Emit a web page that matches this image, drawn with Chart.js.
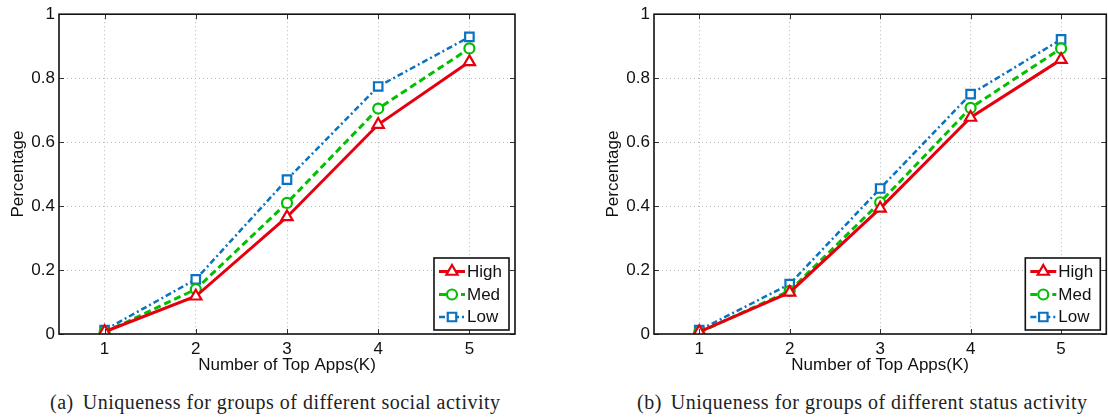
<!DOCTYPE html>
<html>
<head>
<meta charset="utf-8">
<script src="https://cdn.jsdelivr.net/npm/chart.js@4.4.0/dist/chart.umd.min.js"></script>
<style>
  html, body { margin: 0; padding: 0; background: #fff; overflow: hidden; width: 1108px; height: 417px; }
  .panel { position: absolute; top: 0; height: 380px; }
  #panelA { left: 0; width: 540px; }
  #panelB { left: 595px; width: 520px; }
  .caption { position: absolute; top: 391px; font-family: "Liberation Serif", serif; font-size: 20px; letter-spacing: 0.5px; color: #222; white-space: nowrap; line-height: 22px; }
  .caption .tag { margin-right: 9px; }
  #capA { left: 50px; }
  #capB { left: 637px; }
</style>
</head>
<body>
<div class="panel" id="panelA"><canvas id="socialChart"></canvas></div>
<div class="panel" id="panelB"><canvas id="statusChart"></canvas></div>
<div class="caption" id="capA"><span class="tag">(a)</span>Uniqueness for groups of different social activity</div>
<div class="caption" id="capB"><span class="tag">(b)</span>Uniqueness for groups of different status activity</div>
<script>
// Data
const topApps = ['1', '2', '3', '4', '5'];
const yTicks = [0, 0.2, 0.4, 0.6, 0.8, 1];
const groupNames = ['High', 'Med', 'Low'];

// (a) social activity groups
const socialHigh = [0.007, 0.118, 0.366, 0.655, 0.851];
const socialMed = [0.005, 0.140, 0.410, 0.705, 0.893];
const socialLow = [0.012, 0.171, 0.483, 0.774, 0.929];

// (b) status activity groups
const statusHigh = [0.007, 0.130, 0.393, 0.677, 0.858];
const statusMed = [0.005, 0.135, 0.412, 0.707, 0.893];
const statusLow = [0.012, 0.156, 0.455, 0.750, 0.921];

const FONT = '"Liberation Sans", Arial, sans-serif';

// line look for each group: High / Med / Low
const styles = [
  { color: '#e6000f', dash: [], width: 3, point: 'triangle', radius: 6.5 },
  { color: '#00c000', dash: [7, 4], width: 3, point: 'circle', radius: 5 },
  { color: '#0b72c2', dash: [6, 3, 2, 3], width: 2.5, point: 'rect', radius: 6 }
];

function makeDatasets(seriesList) {
  return seriesList.map((values, i) => ({
    label: groupNames[i],
    data: values,
    borderColor: styles[i].color,
    borderWidth: styles[i].width,
    borderDash: styles[i].dash,
    pointStyle: styles[i].point,
    pointRadius: styles[i].radius,
    pointHoverRadius: styles[i].radius,
    pointBorderWidth: 2.2,
    pointBorderColor: styles[i].color,
    pointBackgroundColor: '#fff',
    tension: 0,
    fill: false
  }));
}

// Box frame, inward ticks and the boxed legend in the lower right corner
const frameAndLegend = {
  id: 'frameAndLegend',
  afterDatasetsDraw(chart) {
    const { ctx, chartArea: a, scales: { x, y } } = chart;
    ctx.save();

    ctx.strokeStyle = '#333';
    ctx.lineWidth = 1;
    ctx.beginPath();
    x.ticks.forEach((t, i) => {
      const px = Math.round(x.getPixelForTick(i)) + 0.5;
      ctx.moveTo(px, a.bottom); ctx.lineTo(px, a.bottom - 5);
      ctx.moveTo(px, a.top); ctx.lineTo(px, a.top + 5);
    });
    y.ticks.forEach((t, i) => {
      const py = Math.round(y.getPixelForTick(i)) + 0.5;
      ctx.moveTo(a.left, py); ctx.lineTo(a.left + 5, py);
      ctx.moveTo(a.right, py); ctx.lineTo(a.right - 5, py);
    });
    ctx.stroke();

    ctx.strokeStyle = '#111';
    ctx.lineWidth = 1.6;
    ctx.strokeRect(a.left, a.top, a.right - a.left, a.bottom - a.top);

    // legend
    const boxW = 75, boxH = 72;
    const bx = a.right - 6 - boxW;
    const by = a.bottom - 4 - boxH;
    ctx.fillStyle = '#fff';
    ctx.fillRect(bx, by, boxW, boxH);
    ctx.strokeStyle = '#111';
    ctx.lineWidth = 1.6;
    ctx.strokeRect(bx, by, boxW, boxH);

    const rows = [13.5, 36.5, 59];
    chart.data.datasets.forEach((ds, i) => {
      const ry = by + rows[i];
      ctx.save();
      ctx.strokeStyle = ds.borderColor;
      ctx.lineWidth = ds.borderWidth;
      ctx.setLineDash(ds.borderDash);
      ctx.beginPath();
      ctx.moveTo(bx + 5, ry);
      ctx.lineTo(bx + 31, ry);
      ctx.stroke();
      ctx.setLineDash([]);
      ctx.fillStyle = '#fff';
      ctx.strokeStyle = ds.pointBorderColor;
      ctx.lineWidth = ds.pointBorderWidth;
      Chart.helpers.drawPoint(ctx, { pointStyle: ds.pointStyle, radius: ds.pointRadius, borderWidth: ds.pointBorderWidth, rotation: 0 }, bx + 18, ry);
      ctx.restore();

      ctx.fillStyle = '#111';
      ctx.font = '17px ' + FONT;
      ctx.textBaseline = 'middle';
      ctx.textAlign = 'left';
      ctx.fillText(ds.label, bx + 33, ry + 0.5);
    });

    ctx.restore();
  }
};

function makeChart(canvasId, seriesList, rightPad) {
  const gridStyle = { color: '#b8b8b8', lineWidth: 1, drawTicks: false };
  const borderStyle = { display: false, dash: [1, 3] };
  return new Chart(document.getElementById(canvasId), {
    type: 'line',
    data: { labels: topApps, datasets: makeDatasets(seriesList) },
    options: {
      responsive: true,
      maintainAspectRatio: false,
      animation: false,
      layout: { padding: { top: 14, right: rightPad, left: 0, bottom: 0 } },
      plugins: { legend: { display: false }, tooltip: { enabled: false } },
      scales: {
        x: {
          type: 'category',
          offset: true,
          grid: Object.assign({ offset: false }, gridStyle),
          border: borderStyle,
          ticks: { color: '#111', font: { family: FONT, size: 17 }, padding: 5, maxRotation: 0 },
          title: {
            display: true, text: 'Number of Top Apps(K)', color: '#111',
            font: { family: FONT, size: 17 }, padding: { top: 0, bottom: 4 }
          },
          afterFit: s => { s.height = 46; }
        },
        y: {
          type: 'linear',
          min: 0,
          max: 1,
          afterBuildTicks: s => { s.ticks = yTicks.map(v => ({ value: v })); },
          grid: gridStyle,
          border: borderStyle,
          ticks: { color: '#111', font: { family: FONT, size: 17 }, padding: 4, callback: v => String(v) },
          title: {
            display: true, text: 'Percentage', color: '#111',
            font: { family: FONT, size: 17 }, padding: { top: 8, bottom: 0 }
          },
          afterFit: s => { s.width = 59; }
        }
      }
    },
    plugins: [frameAndLegend]
  });
}

makeChart('socialChart', [socialHigh, socialMed, socialLow], 25);
makeChart('statusChart', [statusHigh, statusMed, statusLow], 4);
</script>
</body>
</html>
